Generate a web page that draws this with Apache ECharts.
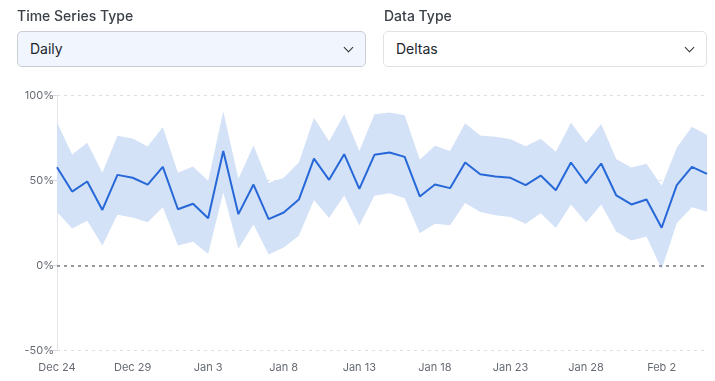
<!DOCTYPE html>
<html>
<head>
<meta charset="utf-8">
<script src="https://cdn.jsdelivr.net/npm/echarts@6/dist/echarts.min.js"></script>
<style>
  html, body { margin:0; padding:0; background:#fff; }
  body { width:715px; height:381px; position:relative; overflow:hidden; font-family: Inter, "Noto Sans", sans-serif; }
  #chart { position:absolute; left:0; top:0; width:715px; height:381px; }
  .lbl { position:absolute; top:7px; font-size:14px; font-weight:500; color:#3b4048; }
  .sel { position:absolute; top:31px; height:36px; border-radius:5px; box-sizing:border-box; font-size:14px; color:#22262c; line-height:34px; padding-left:12px; }
  .chev { position:absolute; top:12px; width:6px; height:6px; border-right:1.3px solid #333; border-bottom:1.3px solid #333; transform:rotate(45deg); }
</style>
</head>
<body>
<div id="chart"></div>
<div class="lbl" style="left:17px;">Time Series Type</div>
<div class="lbl" style="left:384px;">Data Type</div>
<div class="sel" style="left:17px; width:349px; background:#f1f6fe; border:1px solid #c9cdd4;">Daily<div class="chev" style="left:327px;"></div></div>
<div class="sel" style="left:383px; width:324px; background:#fff; border:1px solid #dfe2e7;">Deltas<div class="chev" style="left:302px;"></div></div>
<script>
const categories = ["Dec 24","Dec 25","Dec 26","Dec 27","Dec 28","Dec 29","Dec 30","Dec 31",
  "Jan 1","Jan 2","Jan 3","Jan 4","Jan 5","Jan 6","Jan 7","Jan 8","Jan 9","Jan 10","Jan 11","Jan 12",
  "Jan 13","Jan 14","Jan 15","Jan 16","Jan 17","Jan 18","Jan 19","Jan 20","Jan 21","Jan 22","Jan 23",
  "Jan 24","Jan 25","Jan 26","Jan 27","Jan 28","Jan 29","Jan 30","Jan 31","Feb 1","Feb 2","Feb 3","Feb 4","Feb 5"];
const mean = [57.8,43.5,49.4,32.7,53.3,51.6,47.6,58.0,33.1,36.3,27.8,67.3,30.2,47.6,27.3,31.2,38.8,62.9,50.4,65.5,
  45.1,65.1,66.5,63.9,40.6,47.6,45.5,60.6,53.7,52.4,51.6,47.3,52.9,44.3,60.6,48.4,60.0,41.2,35.9,38.8,22.2,47.3,58.0,53.9];
const upper = [84.3,65.3,72.2,54.5,76.3,74.7,70.0,81.4,54.5,58.2,49.8,90.8,51.0,70.6,48.6,51.6,60.6,86.9,73.1,89.0,
  67.3,89.0,90.0,88.4,62.4,70.4,67.3,83.7,76.5,75.7,74.3,70.2,74.5,66.9,83.9,72.2,83.3,62.5,57.6,59.8,46.9,69.2,81.6,76.7];
const lower = [31.4,21.8,26.3,11.8,29.8,28.2,25.5,34.3,11.8,13.9,6.7,42.9,9.8,24.1,6.5,10.6,17.5,38.6,28.0,41.2,
  23.5,41.0,42.5,39.6,19.0,24.5,23.7,36.7,31.4,29.6,28.6,24.5,30.8,22.0,35.9,25.3,35.9,19.8,14.7,17.1,-2.2,24.9,34.3,31.6];
const yTicks = { min: -50, max: 100, interval: 50 };

const bandWidth = upper.map((u, i) => +(u - lower[i]).toFixed(2));

const chart = echarts.init(document.getElementById('chart'), null, { renderer: 'canvas' });
chart.setOption({
  animation: false,
  grid: { left: 57, right: 8, top: 95.5, bottom: 30.5 },
  xAxis: {
    type: 'category', data: categories, boundaryGap: false,
    axisLine: { show: false }, axisTick: { show: false },
    axisLabel: { interval: 4, color: '#666b73', fontSize: 11, margin: 12, fontFamily: 'Inter' },
    splitLine: { show: false }
  },
  yAxis: {
    type: 'value', min: yTicks.min, max: yTicks.max, interval: yTicks.interval,
    axisLine: { show: true, lineStyle: { color: '#e2e4e8', width: 1 } },
    axisTick: { show: true, length: 8, lineStyle: { color: '#d8dadf' } },
    axisLabel: { formatter: '{value}%', color: '#666b73', fontSize: 11, margin: 3, fontFamily: 'Inter' },
    splitLine: { show: true, lineStyle: { color: '#dcdee2', type: [3, 4] } }
  },
  series: [
    { type: 'line', data: lower, stack: 'band', stackStrategy: 'all', symbol: 'none',
      lineStyle: { opacity: 0 }, silent: true, z: 1 },
    { type: 'line', data: bandWidth, stack: 'band', stackStrategy: 'all', symbol: 'none',
      lineStyle: { opacity: 0 }, areaStyle: { color: '#d4e2f7', opacity: 1 }, silent: true, z: 1 },
    { type: 'line', data: mean, symbol: 'none', z: 3,
      lineStyle: { color: '#2768d8', width: 2 },
      markLine: { silent: true, symbol: 'none', label: { show: false },
        lineStyle: { color: '#7a7d82', type: [3, 4], width: 1.5 },
        data: [{ yAxis: 0 }] } }
  ]
});
</script>
</body>
</html>
